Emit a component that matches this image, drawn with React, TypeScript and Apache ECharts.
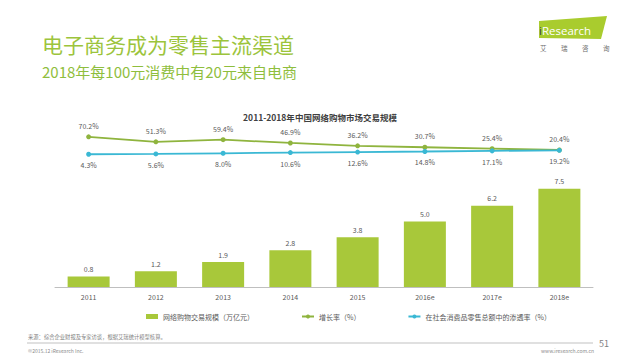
import React, { useEffect, useRef } from "react";
import * as echarts from "echarts";

const categories = ["2011", "2012", "2013", "2014", "2015", "2016e", "2017e", "2018e"];
const tradeScale = [0.8, 1.2, 1.9, 2.8, 3.8, 5.0, 6.2, 7.5];
const growthRate = [70.2, 51.3, 59.4, 46.9, 36.2, 30.7, 25.4, 20.4];
const penetration = [4.3, 5.6, 8.0, 10.6, 12.6, 14.8, 17.1, 19.2];

const seriesNames = ["网络购物交易规模（万亿元）", "增长率（%）", "在社会消费品零售总额中的渗透率（%）"];
const logoChars = ["艾", "瑞", "咨", "询"];

const FONT = '"Noto Sans CJK SC", "Noto Sans", sans-serif';
const BAR_COLOR = "#a8c83a";
const GREEN_LINE = "#8fb43e";
const BLUE_LINE = "#3ab8d4";
const LABEL_COLOR = "#595959";

export default function App() {
  const ref = useRef<HTMLDivElement>(null);

  useEffect(() => {
    if (!ref.current) return;
    const chart = echarts.init(ref.current, undefined, { renderer: "svg" });
    const option: any = {
      animation: false,
      backgroundColor: "#ffffff",
      textStyle: { fontFamily: FONT },
      title: [
        {
          text: "电子商务成为零售主流渠道",
          left: 37,
          top: 28,
          textStyle: { fontFamily: FONT, fontSize: 21, fontWeight: "normal", color: "#9cc43c" },
        },
        {
          text: "2018年每100元消费中有20元来自电商",
          left: 37,
          top: 59,
          textStyle: { fontFamily: FONT, fontSize: 15, fontWeight: "normal", color: "#8fbe3d" },
        },
        {
          text: "2011-2018年中国网络购物市场交易规模",
          left: "center",
          top: 108,
          textStyle: { fontFamily: FONT, fontSize: 8.5, fontWeight: "bold", color: "#404040" },
        },
      ],
      legend: {
        left: 141,
        top: 308,
        itemWidth: 12,
        itemHeight: 5,
        itemGap: 47,
        textStyle: { fontFamily: FONT, fontSize: 7, color: LABEL_COLOR },
        data: [
          { name: seriesNames[0], icon: "rect" },
          { name: seriesNames[1] },
          { name: seriesNames[2] },
        ],
      },
      grid: [
        { left: 55, right: 47, top: 169, bottom: 73 },
        { left: 55, right: 47, top: 128.9, bottom: 204.6 },
      ],
      xAxis: [
        {
          type: "category",
          gridIndex: 0,
          data: categories,
          axisLine: { lineStyle: { color: "#bfbfbf", width: 1 } },
          axisTick: { show: false },
          axisLabel: { fontFamily: FONT, fontSize: 7, color: LABEL_COLOR, margin: 6 },
        },
        { type: "category", gridIndex: 1, data: categories, show: false },
      ],
      yAxis: [
        { type: "value", gridIndex: 0, min: 0, max: 9, show: false, splitLine: { show: false } },
        { type: "value", gridIndex: 1, min: 0, max: 100, show: false, splitLine: { show: false } },
      ],
      series: [
        {
          name: seriesNames[0],
          type: "bar",
          xAxisIndex: 0,
          yAxisIndex: 0,
          data: tradeScale,
          barWidth: 42,
          itemStyle: { color: BAR_COLOR },
          label: {
            show: true,
            position: "top",
            distance: 4,
            fontFamily: FONT,
            fontSize: 7,
            color: LABEL_COLOR,
            formatter: (p: any) => Number(p.value).toFixed(1),
          },
        },
        {
          name: seriesNames[1],
          type: "line",
          xAxisIndex: 1,
          yAxisIndex: 1,
          data: growthRate,
          symbol: "circle",
          symbolSize: 5,
          itemStyle: { color: GREEN_LINE },
          lineStyle: { color: GREEN_LINE, width: 1.8 },
          label: {
            show: true,
            position: "top",
            distance: 5,
            fontFamily: FONT,
            fontSize: 7,
            color: LABEL_COLOR,
            formatter: (p: any) => Number(p.value).toFixed(1) + "%",
          },
          z: 3,
        },
        {
          name: seriesNames[2],
          type: "line",
          xAxisIndex: 1,
          yAxisIndex: 1,
          data: penetration,
          symbol: "circle",
          symbolSize: 5,
          itemStyle: { color: BLUE_LINE },
          lineStyle: { color: BLUE_LINE, width: 1.8 },
          label: {
            show: true,
            position: "bottom",
            distance: 5,
            fontFamily: FONT,
            fontSize: 7,
            color: LABEL_COLOR,
            formatter: (p: any) => Number(p.value).toFixed(1) + "%",
          },
          z: 4,
        },
      ],
      graphic: [
        {
          type: "polygon",
          shape: { points: [[539, 21], [607, 16], [601, 39], [539, 38]] },
          style: { fill: "#a9cc2e" },
        },
        {
          type: "text",
          x: 539,
          y: 30,
          style: {
            text: "{i|i}{r|Research}",
            rich: {
              i: { fontFamily: '"Open Sans", sans-serif', fontSize: 11.5, fill: "#2e4150" },
              r: { fontFamily: '"Open Sans", sans-serif', fontSize: 11.5, fill: "#ffffff" },
            },
            verticalAlign: "middle",
          },
        },
        ...logoChars.map((ch, i) => ({
          type: "text",
          x: 540 + i * 21,
          y: 48,
          style: {
            text: ch,
            fontFamily: FONT,
            fontSize: 6.5,
            fill: "#6e6e6e",
            verticalAlign: "middle",
          },
        })),
        {
          type: "text",
          x: 28,
          y: 337,
          style: {
            text: "来源：综合企业财报及专家访谈，根据艾瑞统计模型核算。",
            fontFamily: FONT,
            fontSize: 5.3,
            fill: "#7f7f7f",
            verticalAlign: "middle",
          },
        },
        {
          type: "line",
          shape: { x1: 27, y1: 343, x2: 593, y2: 343 },
          style: { stroke: "#a6a6a6", lineWidth: 0.7 },
        },
        {
          type: "text",
          x: 28,
          y: 350,
          style: {
            text: "©2015.12 iResearch Inc.",
            fontFamily: FONT,
            fontSize: 5,
            fill: "#8c8c8c",
            verticalAlign: "middle",
          },
        },
        {
          type: "text",
          x: 594,
          y: 350,
          style: {
            text: "www.iresearch.com.cn",
            fontFamily: FONT,
            fontSize: 5,
            fill: "#8c8c8c",
            align: "right",
            verticalAlign: "middle",
          },
        },
        {
          type: "text",
          x: 599,
          y: 343,
          style: {
            text: "51",
            fontFamily: FONT,
            fontSize: 9,
            fill: "#7f7f7f",
            verticalAlign: "middle",
          },
        },
      ],
    };
    chart.setOption(option);
    return () => chart.dispose();
  }, []);

  return (
    <div
      ref={ref}
      style={{ position: "fixed", left: 0, top: 0, width: 640, height: 360, background: "#ffffff" }}
    />
  );
}
